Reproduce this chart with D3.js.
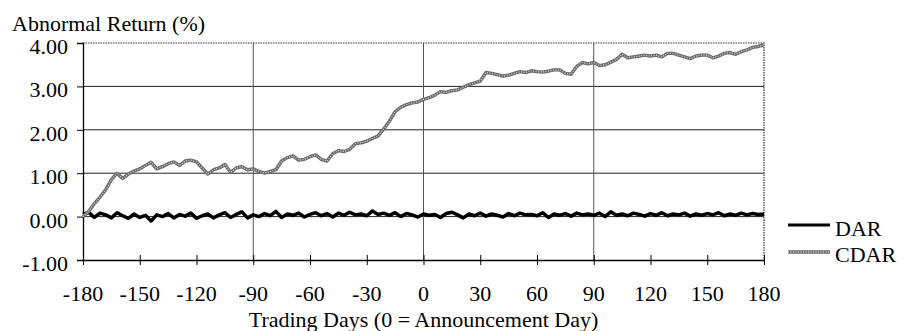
<!DOCTYPE html>
<html>
  <head>
    <meta charset="utf-8">
    <style>
      body { margin: 0; background: #fff; }
    </style>
  </head>
  <body>
    <script src="https://d3js.org/d3.v7.min.js"></script>
    <script>
    var width = 907, height = 331;
    var margin = {top: 43, right: 143, bottom: 71, left: 83};
    var serif = "'Liberation Serif'";

    // trading days, one point every 3 days
    var days = d3.range(-180, 181, 3);

    // daily abnormal return (%)
    var dar = [
      0.05, 0.10, -0.02, 0.08, 0.04, -0.03, 0.09, 0.02, -0.04, 0.06,
      -0.02, 0.03, -0.10, 0.04, 0.00, 0.07, -0.03, 0.05, 0.01, 0.08,
      -0.04, 0.02, 0.06, -0.03, 0.04, 0.09, -0.02, 0.05, 0.11, -0.03,
      0.04, 0.00, 0.07, 0.02, 0.12, -0.02, 0.06, 0.03, 0.08, -0.01,
      0.05, 0.09, 0.02, 0.07, -0.01, 0.08, 0.03, 0.10, 0.04, 0.06,
      0.02, 0.13, 0.05, 0.08, 0.03, 0.09, 0.00, 0.07, 0.04, -0.01,
      0.06, 0.03, 0.05, -0.02, 0.07, 0.10, 0.04, -0.03, 0.06, 0.02,
      0.08, 0.01, 0.06, 0.03, -0.01, 0.07, 0.02, 0.08, 0.04, 0.05,
      0.02, 0.09, -0.02, 0.06, 0.03, 0.07, 0.01, 0.08, 0.04, 0.06,
      0.03, 0.08, 0.00, 0.11, 0.03, 0.06, 0.02, 0.08, 0.05, 0.01,
      0.07, 0.03, 0.09, 0.02, 0.06, 0.04, 0.08, 0.01, 0.06, 0.03,
      0.07, 0.04, 0.09, 0.02, 0.06, 0.03, 0.08, 0.04, 0.07, 0.05,
      0.06
    ];

    // cumulative daily abnormal return (%)
    var cdar = [
      0.00, 0.12, 0.30, 0.45, 0.62, 0.85, 1.00, 0.88, 0.98, 1.05,
      1.10, 1.18, 1.25, 1.10, 1.15, 1.22, 1.26, 1.18, 1.28, 1.30,
      1.26, 1.12, 0.98, 1.08, 1.12, 1.20, 1.02, 1.12, 1.15, 1.08,
      1.10, 1.04, 1.00, 1.04, 1.08, 1.28, 1.36, 1.40, 1.30, 1.32,
      1.38, 1.42, 1.32, 1.28, 1.45, 1.52, 1.50, 1.55, 1.68, 1.70,
      1.74, 1.80, 1.86, 2.02, 2.20, 2.42, 2.52, 2.58, 2.62, 2.64,
      2.70, 2.74, 2.80, 2.88, 2.86, 2.90, 2.92, 2.98, 3.04, 3.08,
      3.12, 3.32, 3.30, 3.27, 3.24, 3.26, 3.30, 3.34, 3.32, 3.36,
      3.34, 3.33, 3.35, 3.38, 3.38, 3.30, 3.28, 3.46, 3.55, 3.52,
      3.55, 3.48, 3.50, 3.56, 3.62, 3.74, 3.66, 3.68, 3.70, 3.72,
      3.70, 3.72, 3.68, 3.76, 3.76, 3.72, 3.68, 3.64, 3.70, 3.72,
      3.72, 3.66, 3.70, 3.76, 3.78, 3.74, 3.80, 3.84, 3.90, 3.92,
      3.96
    ];

    var xTicks = d3.range(-180, 181, 30);
    var yTicks = [-1, 0, 1, 2, 3, 4];

    var svg = d3.select("body")
        .append("svg")
        .attr("width", width)
        .attr("height", height);

    var x = d3.scaleLinear().domain([-180, 180]).range([margin.left, width - margin.right]);
    var y = d3.scaleLinear().domain([-1, 4]).range([height - margin.bottom, margin.top]);

    // plain hyphen for negatives, like the original
    var fmtY = function(d){ return d3.format(".2f")(d).replace("\u2212", "-"); };

    // horizontal grid
    svg.append("g")
      .selectAll("line")
      .data([0, 1, 2, 3])
      .enter().append("line")
        .attr("x1", x(-180)).attr("x2", x(180))
        .attr("y1", function(d){ return y(d); })
        .attr("y2", function(d){ return y(d); })
        .attr("stroke", "#222")
        .attr("stroke-width", 1);

    // vertical grid
    svg.append("g")
      .selectAll("line")
      .data([-90, 0, 90])
      .enter().append("line")
        .attr("x1", function(d){ return x(d); })
        .attr("x2", function(d){ return x(d); })
        .attr("y1", y(4)).attr("y2", y(-1))
        .attr("stroke", "#555")
        .attr("stroke-width", 1);

    // dotted top and right border
    svg.append("path")
      .attr("d", "M" + x(-180) + "," + y(4) + "H" + x(180) + "V" + y(-1))
      .attr("fill", "none")
      .attr("stroke", "#333")
      .attr("stroke-width", 1.2)
      .attr("stroke-dasharray", "1.5,1");

    // axes: lines from d3.axis, labels drawn separately as plain text
    var yAxis = svg.append("g")
      .attr("transform", "translate(" + x(-180) + ",0)")
      .call(d3.axisLeft(y).tickValues(yTicks).tickSize(6).tickFormat(""));
    yAxis.select(".domain").attr("stroke-width", 1.3);

    var xAxis = svg.append("g")
      .attr("transform", "translate(0," + y(-1) + ")")
      .call(d3.axisBottom(x).tickValues(xTicks).tickSizeInner(5).tickSizeOuter(0).tickFormat(""));
    xAxis.select(".domain").attr("stroke-width", 1.3);
    xAxis.selectAll(".tick line").attr("y1", -5);

    svg.append("g")
      .selectAll("text")
      .data(yTicks)
      .enter().append("text")
        .attr("x", x(-180) - 15)
        .attr("y", function(d){ return y(d) + 11; })
        .attr("text-anchor", "end")
        .style("font-family", serif)
        .style("font-size", "22px")
        .text(fmtY);

    svg.append("g")
      .selectAll("text")
      .data(xTicks)
      .enter().append("text")
        .attr("x", function(d){ return x(d); })
        .attr("y", y(-1) + 41)
        .attr("text-anchor", "middle")
        .style("font-family", serif)
        .style("font-size", "22px")
        .text(function(d){ return String(d); });

    var line = d3.line()
      .x(function(d){ return x(d[0]); })
      .y(function(d){ return y(d[1]); });

    // DAR
    svg.append("path")
      .datum(d3.zip(days, dar))
      .attr("d", line)
      .attr("fill", "none")
      .attr("stroke", "#000")
      .attr("stroke-width", 3.5)
      .attr("stroke-linejoin", "round");

    // CDAR, stippled grey
    var cdarData = d3.zip(days, cdar);
    svg.append("path")
      .datum(cdarData)
      .attr("d", line)
      .attr("fill", "none")
      .attr("stroke", "#6a6a6a")
      .attr("stroke-width", 3.4)
      .attr("stroke-linejoin", "round");
    svg.append("path")
      .datum(cdarData)
      .attr("d", line)
      .attr("fill", "none")
      .attr("stroke", "#d8d8d8")
      .attr("stroke-width", 1.3)
      .attr("stroke-dasharray", "1,1.5");

    // titles
    svg.append("text")
      .attr("x", 12).attr("y", 31)
      .style("font-family", serif)
      .style("font-size", "22px")
      .text("Abnormal Return (%)");

    svg.append("text")
      .attr("x", x(0)).attr("y", 327)
      .attr("text-anchor", "middle")
      .style("font-family", serif)
      .style("font-size", "22px")
      .text("Trading Days (0 = Announcement Day)");

    // legend
    var legend = svg.append("g");
    legend.append("line")
      .attr("x1", 788).attr("x2", 830).attr("y1", 225).attr("y2", 225)
      .attr("stroke", "#000").attr("stroke-width", 3);
    legend.append("text")
      .attr("x", 835).attr("y", 236)
      .style("font-family", serif)
      .style("font-size", "22px")
      .text("DAR");
    legend.append("line")
      .attr("x1", 788).attr("x2", 830).attr("y1", 252).attr("y2", 252)
      .attr("stroke", "#6a6a6a").attr("stroke-width", 3.4);
    legend.append("line")
      .attr("x1", 788).attr("x2", 830).attr("y1", 252).attr("y2", 252)
      .attr("stroke", "#d8d8d8").attr("stroke-width", 1.3)
      .attr("stroke-dasharray", "1,1.5");
    legend.append("text")
      .attr("x", 835).attr("y", 262)
      .style("font-family", serif)
      .style("font-size", "22px")
      .text("CDAR");
    </script>
  </body>
</html>
